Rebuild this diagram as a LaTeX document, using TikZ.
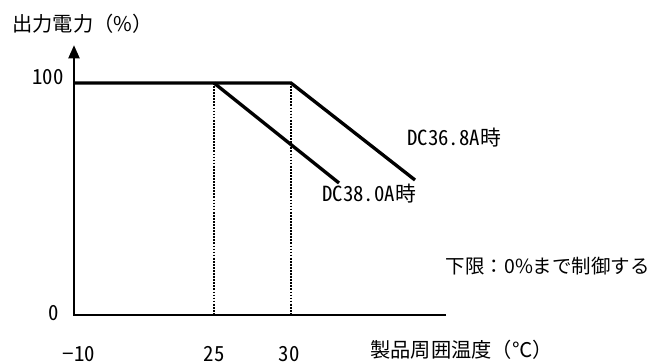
\documentclass[tikz,border=0pt]{standalone}
\usepackage{fontspec}
\setmainfont{Noto Sans CJK JP}
\newfontfamily\hwfnt[RawFeature=+hwid]{Noto Sans CJK JP}
\usetikzlibrary{arrows.meta}
\def\xo{74}
\def\xa{214}
\def\xb{291}
\def\xe{446}
\def\yo{315}
\def\yh{83}
\def\yt{45}
\begin{document}
\begin{tikzpicture}[x=0.75pt,y=-0.75pt,font=\fontsize{15.2}{17}\selectfont,
    curve/.style={line width=2.5pt},
    guide/.style={densely dotted,line width=1.3pt},
    lbl/.style={inner sep=0pt,anchor=west},
    num/.style={lbl,font=\fontsize{15.6}{17}\selectfont\hwfnt}]
        \useasboundingbox (0,0) rectangle (654,364);
        \coordinate (O) at (\xo,\yo);
        \coordinate (T) at (\xo,\yt);
        \coordinate (E) at (\xe,\yo);
        \coordinate (H) at (\xo,\yh);
        \coordinate (A) at (\xa,\yh);
        \coordinate (B) at (\xb,\yh);
        \coordinate (A0) at (\xa,\yo);
        \coordinate (B0) at (\xb,\yo);
        \coordinate (Ae) at (339,183);
        \coordinate (Be) at (415,180);
        % axes
        \draw[line width=2.2pt,-{Triangle[width=8pt,length=10pt]}] (E) -- (O) -- (T);
        % guides
        \draw[guide] (A) -- (A0);
        \draw[guide] (B) -- (B0);
        % curves
        \draw[curve] (H) -- (B) -- (Be);
        \draw[curve] (A) -- (Ae);
        % labels
        \node[lbl] (ylab) at (12,24) {出力電力（\%）};
        \node[num,anchor=east] (y100) at (64,77) {100};
        \node[num,anchor=east] (y0) at (59,313) {0};
        \node[num,anchor=center] (x10) at (79,354) {−10};
        \node[num,anchor=center] (x25) at (\xa,354) {25};
        \node[num,anchor=center] (x30) at (289,354) {30};
        \node[lbl] (xlab) at (370,350) {製品周囲温度（℃）};
        \node[num] (c368) at (407,138) {DC36.8A時};
        \node[num] (c380) at (322,194) {DC38.0A時};
        \node[lbl,anchor=east,font=\fontsize{14.6}{17}\selectfont] (note) at (650,266) {下限：0\%まで制御する};
    \end{tikzpicture}
\end{document}
